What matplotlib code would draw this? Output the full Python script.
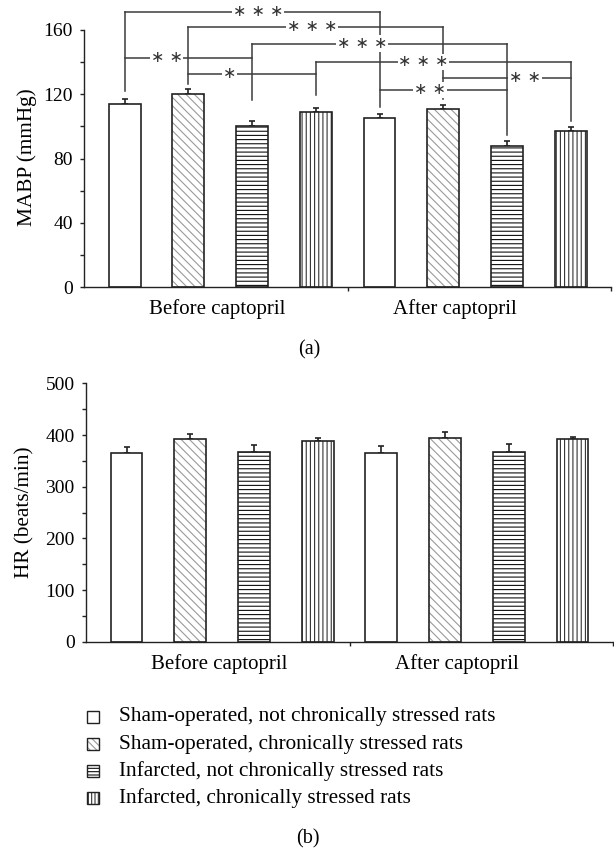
"""
MABP and HR before / after captopril, two stacked bar panels
"""

import matplotlib
matplotlib.use('Agg')
import matplotlib.pyplot as plt
from matplotlib.patches import Rectangle
from matplotlib.ticker import MultipleLocator

plt.rcParams['font.family'] = ['Liberation Serif', 'DejaVu Serif']
plt.rcParams['hatch.linewidth'] = 0.8

###############################################################################

groups = ['Before captopril', 'After captopril']
series = ['Sham-operated, not chronically stressed rats',
          'Sham-operated, chronically stressed rats',
          'Infarcted, not chronically stressed rats',
          'Infarcted, chronically stressed rats']

# 8 bars: 4 series before captopril, then the same 4 after
mabp_mean = [114.0, 120.0, 100.4, 108.7, 105.0, 111.0, 87.7, 96.9]
mabp_err = [3.0, 3.0, 3.3, 3.0, 3.0, 2.3, 3.3, 3.0]
hr_mean = [365.6, 392.7, 367.5, 388.8, 365.6, 394.6, 366.3, 392.0]
hr_err = [11.0, 8.5, 13.0, 5.0, 13.5, 10.5, 16.7, 4.5]

# significance brackets on the MABP panel
sig_pairs = [(0, 4), (1, 5), (2, 6), (3, 7), (0, 2), (1, 3), (4, 6), (5, 7)]
sig_level = [171.2, 162.0, 151.5, 140.1, 142.6, 132.8, 122.7, 130.4]
sig_text = ['***', '***', '***', '***', '**', '*', '**', '**']
sig_text_x = [2.09, 2.94, 3.72, 4.69, 0.66, 1.64, 4.79, 6.28]
leg_bottom = [122.0, 126.2, 116.5, 119.6, 112.0, 117.0, 94.7, 103.6]

###############################################################################

HATCHES = ['', '\\\\\\\\', '----', '||||']
HATCH_COLORS = ['white', '#9a9a9a', '#111111', '#333333']
EDGE = '#222222'
LINE = '#3c3c3c'
XLIM = (-0.636, 7.63)
WIDTH = 0.5


def draw_bars(axes, means, errs):
    """Hatched bars with upward-only error bars"""
    xpos = list(range(len(means)))
    for idx, (xval, val) in enumerate(zip(xpos, means)):
        kind = idx % 4
        axes.bar(xval, val, WIDTH, color='white', edgecolor=HATCH_COLORS[kind],
                 hatch=HATCHES[kind], linewidth=0, zorder=2)
        axes.bar(xval, val, WIDTH, fill=False, edgecolor=EDGE,
                 linewidth=1.2, zorder=3)
    axes.errorbar(xpos, means, yerr=[[0] * len(errs), errs], fmt='none',
                  ecolor=EDGE, elinewidth=1.2, capsize=2, capthick=1.2,
                  zorder=1)


def style_axes(axes, ymax, major, minor):
    axes.set_xlim(*XLIM)
    axes.set_ylim(0, ymax)
    for side in ('top', 'right'):
        axes.spines[side].set_visible(False)
    for side in ('left', 'bottom'):
        axes.spines[side].set_color(EDGE)
        axes.spines[side].set_linewidth(1.0)
    axes.yaxis.set_major_locator(MultipleLocator(major))
    axes.yaxis.set_minor_locator(MultipleLocator(minor))
    axes.set_xticks([3.5, XLIM[1]])
    axes.set_xticklabels([])
    axes.tick_params(axis='both', which='both', direction='out', length=2.6,
                     width=1.0, color=EDGE, labelsize=14, pad=5.5)
    for xval, name in zip([1.45, 5.18], groups):
        axes.annotate(name, xy=(xval, 0), xycoords=('data', 'axes fraction'),
                      xytext=(0, -16), textcoords='offset points',
                      ha='center', va='center', fontsize=15)


fig = plt.figure(figsize=(6.14, 8.51), dpi=100)
ax_top = fig.add_axes([0.1371, 0.6624, 0.8577, 0.3024])
ax_bot = fig.add_axes([0.1401, 0.2459, 0.8578, 0.3036])

draw_bars(ax_top, mabp_mean, mabp_err)
style_axes(ax_top, 160, 40, 20)
draw_bars(ax_bot, hr_mean, hr_err)
style_axes(ax_bot, 500, 100, 50)

# bracket legs: each bar's leg rises to its highest bracket
leg_top = [max(lvl for pair, lvl in zip(sig_pairs, sig_level) if bar in pair)
           for bar in range(len(mabp_mean))]
for bar, (lo, hi) in enumerate(zip(leg_bottom, leg_top)):
    ax_top.plot([bar, bar], [lo, hi], color=LINE, lw=1.1, clip_on=False,
                zorder=4)
for (lhs, rhs), lvl, txt, tx in zip(sig_pairs, sig_level, sig_text, sig_text_x):
    ax_top.plot([lhs, rhs], [lvl, lvl], color=LINE, lw=1.1, clip_on=False,
                zorder=4)
    ax_top.text(tx, lvl, ' '.join('\u2217' * len(txt)), ha='center',
                va='center', fontsize=11.5, family='DejaVu Sans',
                color='#333333', zorder=5, clip_on=False,
                bbox=dict(facecolor='white', edgecolor='none', pad=0.6))

fig.text(26.7 / 614, 1 - 157.5 / 851, 'MABP (mmHg)', rotation=90,
         ha='center', va='center', fontsize=15.3)
fig.text(24.5 / 614, 1 - 512.5 / 851, 'HR (beats/min)', rotation=90,
         ha='center', va='center', fontsize=15.3)

fig.text(309 / 614, 1 - 350 / 851, '(a)', ha='center', va='center',
         fontsize=14.5)
fig.text(308 / 614, 1 - 839 / 851, '(b)', ha='center', va='center',
         fontsize=14.5)

# legend drawn by hand under panel (b)
legend_hatch = ['', '\\\\\\\\\\', '-----', '|||||']
for row, name in enumerate(series):
    ycen = 717 + 27 * row
    fig.add_artist(Rectangle((87 / 614, 1 - (ycen + 6) / 851), 12 / 614,
                             12 / 851, transform=fig.transFigure,
                             facecolor='white', edgecolor=HATCH_COLORS[row],
                             hatch=legend_hatch[row], linewidth=0))
    fig.add_artist(Rectangle((87 / 614, 1 - (ycen + 6) / 851), 12 / 614,
                             12 / 851, transform=fig.transFigure, fill=False,
                             edgecolor=EDGE, linewidth=1.0))
    fig.text(119 / 614, 1 - ycen / 851, name, ha='left', va='center',
             fontsize=15.3)

fig.savefig('out.png', dpi=100)
